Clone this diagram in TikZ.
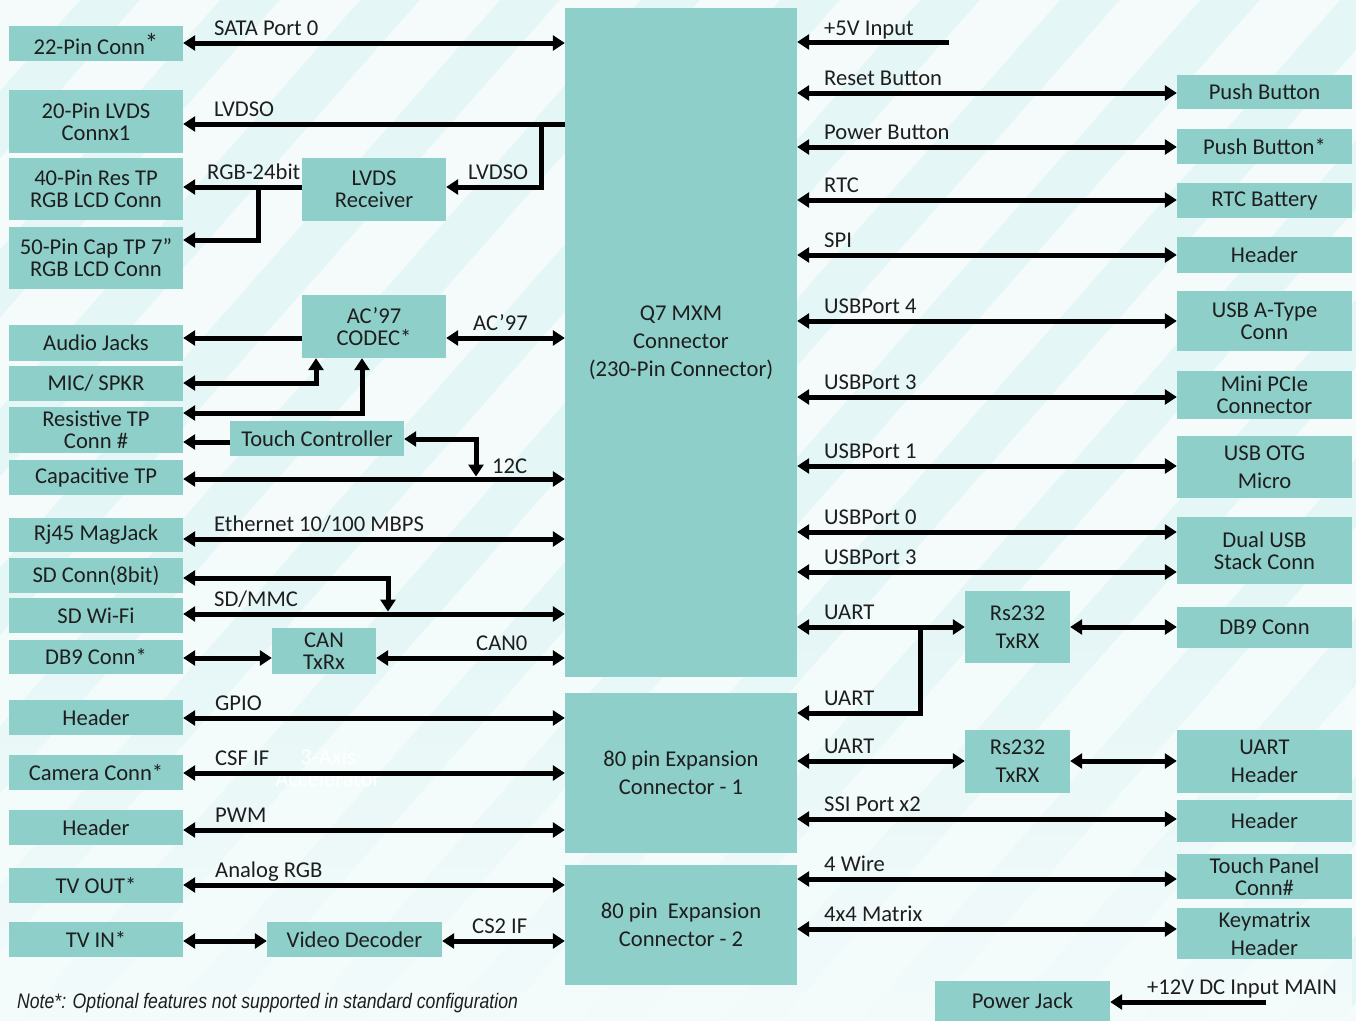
\documentclass[tikz,border=0pt]{standalone}
\usepackage{fontspec}
\setmainfont{Carlito}
\newfontfamily\notefont[FakeStretch=0.84]{Liberation Sans}
\usetikzlibrary{arrows.meta,fadings}
\definecolor{boxc}{RGB}{143,207,202}
\definecolor{txt}{RGB}{30,30,30}
\definecolor{bgc}{RGB}{228,246,246}
\newcommand\fs{\fontsize{22.6}{22}\selectfont}
\tikzset{
 box/.style={fill=boxc, inner sep=0pt, align=center, text=txt, font=\fs},
 dbl/.style={line width=5pt, {Triangle[length=12pt,width=15pt]}-{Triangle[length=12pt,width=15pt]}},
 sgl/.style={line width=5pt, -{Triangle[length=12pt,width=15pt]}},
 lbl/.style={anchor=base west, inner sep=0pt, text=txt, font=\fs},
}
\newcommand\bx[6]{\node[box, minimum width={(#4-#2)*1pt}, minimum height={(#5-#3)*1pt}] (#1) at ({(#2+#4)/2},{(#3+#5)/2}) {#6};}
\newcommand\lb[4]{\node[lbl] (#1) at (#2,#3-8) {#4};}
\begin{document}
\begin{tikzpicture}[x=1pt,y=-1pt]
\useasboundingbox (0,0) rectangle (1356,1021);
% background
\begin{scope}
\clip (0,0) rectangle (1356,1021);
\fill[bgc] (0,0) rectangle (1356,1021);
\foreach \s in {-900,-760,...,1500} {
  \fill[white, opacity=0.65] (\s,1021) -- (\s+80,1021) -- (\s+980,0) -- (\s+900,0) -- cycle;
}
\fill[bgc!45!white, path fading=north] (0,560) rectangle (1356,1021);
\end{scope}

% central connectors
\bx{q7}{565}{8}{797}{677}{Q7 MXM\\[6pt]Connector\\[6pt](230-Pin Connector)}
\bx{exp1}{565}{693}{797}{853}{80 pin Expansion\\[6pt]Connector - 1}
\bx{exp2}{565}{865}{797}{985}{80 pin\ \ Expansion\\[6pt]Connector - 2}

% left boxes
\bx{b22}{9}{26}{183}{61}{22-Pin Conn\raisebox{2pt}{\fontsize{27}{27}\selectfont *}}
\bx{b20}{9}{90}{183}{153}{20-Pin LVDS\\Connx1}
\bx{b40}{9}{158}{183}{220}{40-Pin Res TP\\RGB LCD Conn}
\bx{b50}{9}{227}{183}{289}{50-Pin Cap TP 7”\\RGB LCD Conn}
\bx{audio}{9}{325}{183}{361}{Audio Jacks}
\bx{mic}{9}{366}{183}{401}{MIC/ SPKR}
\bx{res}{9}{407}{183}{453}{Resistive TP\\Conn \#}
\bx{cap}{9}{460}{183}{495}{Capacitive TP}
\bx{rj}{9}{518}{183}{552}{Rj45 MagJack}
\bx{sdc}{9}{558}{183}{593}{SD Conn(8bit)}
\bx{sdw}{9}{598}{183}{633}{SD Wi-Fi}
\bx{db9l}{9}{640}{183}{674}{DB9 Conn*}
\bx{hdrg}{9}{700}{183}{735}{Header}
\bx{cam}{9}{755}{183}{790}{Camera Conn*}
\bx{hdrp}{9}{810}{183}{845}{Header}
\bx{tvo}{9}{868}{183}{903}{TV OUT*}
\bx{tvi}{9}{922}{183}{957}{TV IN*}

% middle boxes
\bx{lvdsrx}{302}{158}{446}{221}{LVDS\\Receiver}
\bx{codec}{302}{295}{446}{358}{AC’97\\CODEC*}
\bx{tc}{230}{421}{404}{456}{Touch Controller}
\bx{can}{272}{628}{376}{674}{CAN\\TxRx}
\bx{vd}{267}{922}{442}{957}{Video Decoder}

% right boxes
\bx{pb1}{1177}{75}{1352}{109}{Push Button}
\bx{pb2}{1177}{129}{1352}{164}{Push Button*}
\bx{rtcb}{1177}{183}{1352}{218}{RTC Battery}
\bx{hspi}{1177}{237}{1352}{273}{Header}
\bx{usba}{1177}{291}{1352}{351}{USB A-Type\\Conn}
\bx{pcie}{1177}{371}{1352}{419}{Mini PCIe\\Connector}
\bx{otg}{1177}{436}{1352}{498}{USB OTG\\[6pt]Micro}
\bx{dual}{1177}{517}{1352}{584}{Dual USB\\Stack Conn}
\bx{db9r}{1177}{607}{1352}{648}{DB9 Conn}
\bx{uarth}{1177}{730}{1352}{793}{UART\\[6pt]Header}
\bx{hssi}{1177}{800}{1352}{842}{Header}
\bx{tpc}{1177}{854}{1352}{899}{Touch Panel\\Conn\#}
\bx{keym}{1177}{908}{1352}{959}{Keymatrix\\[6pt]Header}
\bx{rs1}{965}{591}{1070}{663}{Rs232\\[6pt]TxRX}
\bx{rs2}{965}{730}{1070}{793}{Rs232\\[6pt]TxRX}
\bx{pj}{935}{981}{1110}{1021}{Power Jack}

% faint white text
\node[text=white, align=center, font=\fs, inner sep=0pt] (acc) at (328,768) {3-Axis\\Accelerator};

% left connectors
\draw[dbl] (b22.east |- 0,43) -- (q7.west |- 0,43);
\draw[sgl] (q7.west |- 0,124) -- (b20.east |- 0,124);
\coordinate (j1) at (541,124);
\draw[sgl] (j1) |- (lvdsrx.east |- 0,187);
\draw[sgl] (lvdsrx.west |- 0,187) -- (b40.east |- 0,187);
\coordinate (j2) at (258,187);
\draw[sgl] (j2) |- (b50.east |- 0,240);
\draw[sgl] (codec.west |- 0,338) -- (audio.east |- 0,338);
\draw[dbl] (codec.east |- 0,338) -- (q7.west |- 0,338);
\draw[dbl] (mic.east |- 0,383) -| (codec.south -| 316,0);
\draw[dbl] (codec.south -| 362,0) |- (res.east |- 0,413);
\draw[sgl] (tc.west |- 0,442) -- (res.east |- 0,442);
\coordinate (i2c) at (476,476.5);
\draw[dbl] (tc.east |- 0,439) -| (i2c);
\draw[dbl] (cap.east |- 0,479) -- (q7.west |- 0,479);
\draw[dbl] (rj.east |- 0,539) -- (q7.west |- 0,539);
\coordinate (sdj) at (388,611.5);
\draw[dbl] (sdc.east |- 0,578) -| (sdj);
\draw[dbl] (sdw.east |- 0,614) -- (q7.west |- 0,614);
\draw[dbl] (db9l.east |- 0,658) -- (can.west |- 0,658);
\draw[dbl] (can.east |- 0,658) -- (q7.west |- 0,658);
\draw[dbl] (hdrg.east |- 0,718) -- (exp1.west |- 0,718);
\draw[dbl] (cam.east |- 0,773) -- (exp1.west |- 0,773);
\draw[dbl] (hdrp.east |- 0,830) -- (exp1.west |- 0,830);
\draw[dbl] (tvo.east |- 0,885) -- (exp2.west |- 0,885);
\draw[dbl] (tvi.east |- 0,941) -- (vd.west |- 0,941);
\draw[dbl] (vd.east |- 0,941) -- (exp2.west |- 0,941);

% right connectors
\coordinate (v5) at (949,42);
\draw[sgl] (v5) -- (q7.east |- v5);
\draw[dbl] (q7.east |- 0,93) -- (pb1.west |- 0,93);
\draw[dbl] (q7.east |- 0,147) -- (pb2.west |- 0,147);
\draw[dbl] (q7.east |- 0,200) -- (rtcb.west |- 0,200);
\draw[dbl] (q7.east |- 0,255) -- (hspi.west |- 0,255);
\draw[dbl] (q7.east |- 0,321) -- (usba.west |- 0,321);
\draw[dbl] (q7.east |- 0,397) -- (pcie.west |- 0,397);
\draw[dbl] (q7.east |- 0,466) -- (otg.west |- 0,466);
\draw[dbl] (q7.east |- 0,532) -- (dual.west |- 0,532);
\draw[dbl] (q7.east |- 0,572) -- (dual.west |- 0,572);
\draw[dbl] (q7.east |- 0,627) -- (rs1.west |- 0,627);
\draw[dbl] (rs1.east |- 0,627) -- (db9r.west |- 0,627);
\coordinate (uj) at (920,627);
\draw[sgl] (uj) |- (exp1.east |- 0,713);
\draw[dbl] (exp1.east |- 0,761) -- (rs2.west |- 0,761);
\draw[dbl] (rs2.east |- 0,761) -- (uarth.west |- 0,761);
\draw[dbl] (exp1.east |- 0,819) -- (hssi.west |- 0,819);
\draw[dbl] (exp2.east |- 0,879) -- (tpc.west |- 0,879);
\draw[dbl] (exp2.east |- 0,929) -- (keym.west |- 0,929);
\coordinate (v12) at (1266,1002);
\draw[sgl] (v12) -- (pj.east |- v12);

% labels left
\lb{lsata}{214}{43}{SATA Port 0}
\lb{llv1}{214}{124}{LVDSO}
\lb{lrgb}{207}{187}{RGB-24bit}
\lb{llv2}{468}{187}{LVDSO}
\lb{lac}{473}{338}{AC’97}
\lb{li2c}{492}{481}{12C}
\lb{leth}{214}{539}{Ethernet 10/100 MBPS}
\lb{lsd}{214}{614}{SD/MMC}
\lb{lcan}{476}{658}{CAN0}
\lb{lgpio}{215}{718}{GPIO}
\lb{lcsf}{215}{773}{CSF IF}
\lb{lpwm}{215}{830}{PWM}
\lb{lana}{215}{885}{Analog RGB}
\lb{lcs2}{472}{941}{CS2 IF}
% labels right
\lb{r5v}{824}{43}{+5V Input}
\lb{rrst}{824}{93}{Reset Button}
\lb{rpwr}{824}{147}{Power Button}
\lb{rrtc}{824}{200}{RTC}
\lb{rspi}{824}{255}{SPI}
\lb{ru4}{824}{321}{USBPort 4}
\lb{ru3}{824}{397}{USBPort 3}
\lb{ru1}{824}{466}{USBPort 1}
\lb{ru0}{824}{532}{USBPort 0}
\lb{ru3b}{824}{572}{USBPort 3}
\lb{rua}{824}{627}{UART}
\lb{rub}{824}{713}{UART}
\lb{ruc}{824}{761}{UART}
\lb{rssi}{824}{819}{SSI Port x2}
\lb{r4w}{824}{879}{4 Wire}
\lb{rkm}{824}{929}{4x4 Matrix}
\lb{r12}{1147}{1002}{+12V DC Input MAIN}

% note
\node[anchor=base west, inner sep=0pt, text=txt, font={\notefont\itshape\fontsize{21}{22}\selectfont}] (note) at (17,1008) {Note*: Optional features not supported in standard configuration};
\end{tikzpicture}
\end{document}
